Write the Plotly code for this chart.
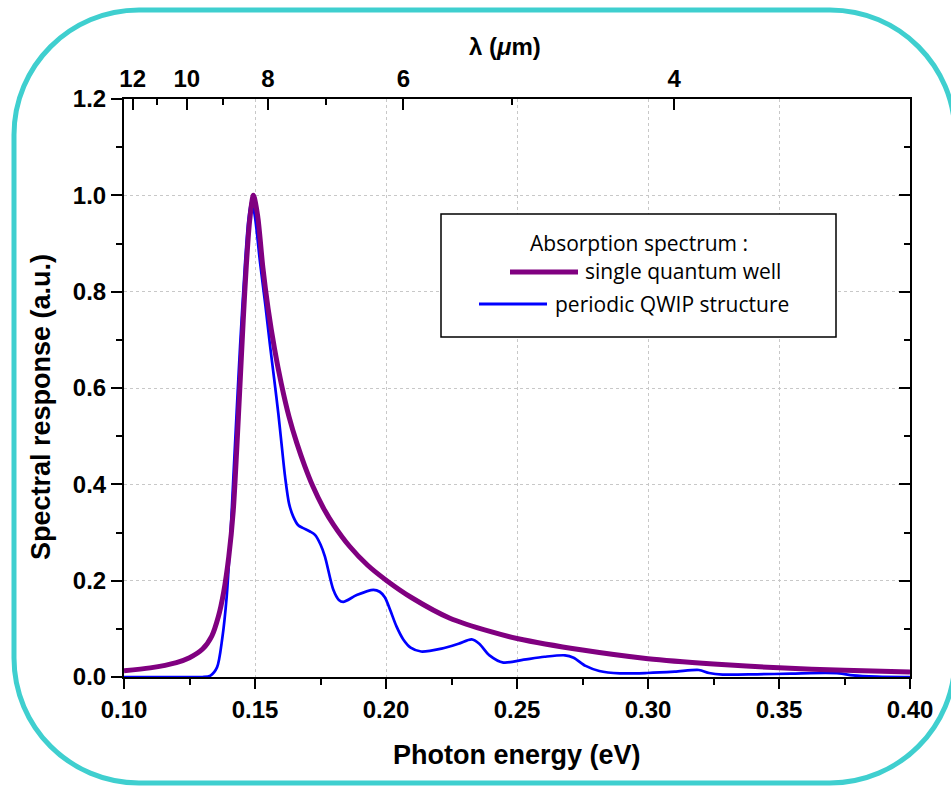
import plotly.graph_objects as go

# Photon energy (eV) and normalised spectral response
sqw_energy = [0.100, 0.110, 0.120, 0.125, 0.130, 0.1335, 0.136, 0.138, 0.140, 0.1417,
              0.1430, 0.1443, 0.1455, 0.1467, 0.1480, 0.1494, 0.1510, 0.1530, 0.1550,
              0.1575, 0.1600, 0.1630, 0.1660, 0.1690, 0.1720, 0.1760, 0.1800, 0.1860,
              0.1930, 0.2003, 0.2100, 0.2244, 0.240, 0.250, 0.275, 0.300, 0.325, 0.350,
              0.375, 0.400]
sqw_response = [0.013, 0.019, 0.030, 0.040, 0.058, 0.085, 0.125, 0.175, 0.250, 0.345,
                0.470, 0.610, 0.740, 0.855, 0.950, 1.000, 0.958, 0.850, 0.765,
                0.680, 0.610, 0.540, 0.485, 0.438, 0.397, 0.352, 0.316, 0.272,
                0.232, 0.200, 0.164, 0.122, 0.094, 0.080, 0.056, 0.038, 0.027, 0.019,
                0.014, 0.0105]

qwip_energy = [0.100, 0.120, 0.130, 0.133, 0.1355, 0.1375, 0.1392, 0.1405, 0.1417, 0.1430,
               0.1443, 0.1462, 0.1475, 0.1487, 0.1500, 0.1519, 0.1540, 0.1557, 0.1574,
               0.1589, 0.1603, 0.1615, 0.1630, 0.1646, 0.1665, 0.1684, 0.1710, 0.1729,
               0.1750, 0.1767, 0.1799, 0.1820, 0.1837, 0.1888, 0.1952, 0.1976, 0.1996,
               0.2016, 0.2040, 0.2066, 0.2094, 0.2134, 0.2212, 0.2277, 0.2327, 0.2356,
               0.2395, 0.2448, 0.2526, 0.2605, 0.2683, 0.2716, 0.2762, 0.2814, 0.2893,
               0.2997, 0.3102, 0.3194, 0.3233, 0.3285, 0.3416, 0.3547, 0.3678, 0.3730,
               0.3783, 0.3874, 0.400]
qwip_response = [0.000, 0.000, 0.000, 0.003, 0.020, 0.080, 0.167, 0.280, 0.409, 0.550,
                 0.686, 0.859, 0.950, 0.990, 0.955, 0.862, 0.770, 0.690, 0.615,
                 0.547, 0.475, 0.415, 0.360, 0.333, 0.315, 0.309, 0.302, 0.295,
                 0.275, 0.250, 0.181, 0.160, 0.156, 0.170, 0.181, 0.177, 0.165,
                 0.139, 0.105, 0.078, 0.061, 0.053, 0.059, 0.069, 0.078, 0.069,
                 0.045, 0.030, 0.036, 0.042, 0.045, 0.040, 0.023, 0.0125, 0.0076,
                 0.0083, 0.0110, 0.0146, 0.0083, 0.0050, 0.0056, 0.0070, 0.0083, 0.0076,
                 0.0035, 0.0010, 0.000]

# Secondary (top) axis: wavelength in micrometres
wl_major = [12, 10, 8, 6, 4]
wl_minor = [11, 9, 7, 5]
HC = 1.2398  # eV * um

legend_title = "Absorption spectrum :"
sqw_name = "single quantum well"
qwip_name = "periodic QWIP structure"

PURPLE = "#800080"
BLUE = "#0000ff"
CYAN = "#3fcfcf"

W, H = 951, 786
ML, MR, MT, MB = 124, 41, 99, 109
PW, PH = W - ML - MR, H - MT - MB


def fx(x):
    return (x - ML) / PW


def fy(y):
    return (H - MB - y) / PH


fig = go.Figure()
fig.add_trace(go.Scatter(x=qwip_energy, y=qwip_response, mode="lines", name=qwip_name,
                         line=dict(color=BLUE, width=2.7, shape="spline", smoothing=0.8),
                         showlegend=False))
fig.add_trace(go.Scatter(x=sqw_energy, y=sqw_response, mode="lines", name=sqw_name,
                         line=dict(color=PURPLE, width=5, shape="spline", smoothing=0.8),
                         showlegend=False))
fig.add_trace(go.Scatter(x=[], y=[], xaxis="x2", yaxis="y2", showlegend=False,
                         hoverinfo="skip"))

tick_font = dict(family="Liberation Sans, Arial, sans-serif", size=24, color="black",
                 weight="bold")
axis_common = dict(showline=True, linewidth=2, linecolor="black", zeroline=False,
                   tickcolor="black", tickwidth=2, tickfont=tick_font)

fig.update_layout(
    width=W, height=H,
    margin=dict(l=ML, r=MR, t=MT, b=MB),
    paper_bgcolor="white", plot_bgcolor="white",
    xaxis=dict(range=[0.1, 0.4], tick0=0.1, dtick=0.05, tickformat=".2f",
               ticks="outside", ticklen=10, showgrid=True, gridcolor="#c8c8c8",
               griddash="dot", gridwidth=1,
               minor=dict(dtick=0.025, ticks="outside", ticklen=6, tickcolor="black",
                          tickwidth=2, showgrid=False),
               **axis_common),
    yaxis=dict(range=[0, 1.2], tick0=0, dtick=0.2, tickformat=".1f",
               ticks="outside", ticklen=11, showgrid=True, gridcolor="#c8c8c8",
               griddash="dot", gridwidth=1,
               minor=dict(dtick=0.1, ticks="outside", ticklen=6, tickcolor="black",
                          tickwidth=2, showgrid=False),
               **axis_common),
    xaxis2=dict(overlaying="x", side="top", range=[0.1, 0.4],
                tickmode="array", tickvals=[HC / w for w in wl_major],
                ticktext=[str(w) for w in wl_major],
                ticks="inside", ticklen=11, showgrid=False,
                minor=dict(tickmode="array", tickvals=[HC / w for w in wl_minor],
                           ticks="inside", ticklen=6, tickcolor="black", tickwidth=2),
                **axis_common),
    yaxis2=dict(overlaying="y", side="right", range=[0, 1.2], tick0=0, dtick=0.2,
                ticks="inside", ticklen=11, showticklabels=False, showgrid=False,
                minor=dict(dtick=0.1, ticks="inside", ticklen=6, tickcolor="black",
                           tickwidth=2),
                **axis_common),
)

title_font = dict(family="Liberation Sans, Arial, sans-serif", size=27, color="black",
                  weight="bold")
annotations = [
    dict(text="Photon energy (eV)", x=fx(517), y=fy(755), font=title_font),
    dict(text="Spectral response (a.u.)", x=fx(41), y=fy(407), textangle=-90,
         font=title_font),
    dict(text="λ (<i>μ</i>m)", x=fx(505), y=fy(47),
         font=dict(family="Liberation Sans, Arial, sans-serif", size=24, color="black",
                   weight="bold")),
]
leg_font = dict(family="Open Sans, sans-serif", size=21, color="black")
annotations += [
    dict(text=legend_title, x=fx(639), y=fy(243), font=leg_font),
    dict(text=sqw_name, x=fx(583), y=fy(271), xanchor="left", font=leg_font),
    dict(text=qwip_name, x=fx(553), y=fy(304), xanchor="left", font=leg_font),
]
for a in annotations:
    a.setdefault("xanchor", "center")
    a.update(xref="paper", yref="paper", yanchor="middle", showarrow=False)
fig.update_layout(annotations=annotations)

# Legend frame and line samples
shapes = [
    dict(type="rect", xref="paper", yref="paper", x0=fx(441), x1=fx(836),
         y0=fy(214), y1=fy(337), line=dict(color="black", width=1.5),
         fillcolor="white", layer="above"),
    dict(type="line", xref="paper", yref="paper", x0=fx(510), x1=fx(578),
         y0=fy(272), y1=fy(272), line=dict(color=PURPLE, width=5)),
    dict(type="line", xref="paper", yref="paper", x0=fx(479), x1=fx(547),
         y0=fy(304), y1=fy(304), line=dict(color=BLUE, width=3)),
]

# Rounded outer frame
L, T, R, B, r = 14, 10, 955, 783, 125
k = 0.5523 * r


def P(x, y):
    return f"{fx(x):.5f},{fy(y):.5f}"


path = (f"M {P(L, T + r)} C {P(L, T + r - k)} {P(L + r - k, T)} {P(L + r, T)} "
        f"L {P(R - r, T)} C {P(R - r + k, T)} {P(R, T + r - k)} {P(R, T + r)} "
        f"L {P(R, B - r)} C {P(R, B - r + k)} {P(R - r + k, B)} {P(R - r, B)} "
        f"L {P(L + r, B)} C {P(L + r - k, B)} {P(L, B - r + k)} {P(L, B - r)} Z")
shapes.append(dict(type="path", xref="paper", yref="paper", path=path,
                   line=dict(color=CYAN, width=5), layer="above"))
fig.update_layout(shapes=shapes)

fig.write_html("out.html")
